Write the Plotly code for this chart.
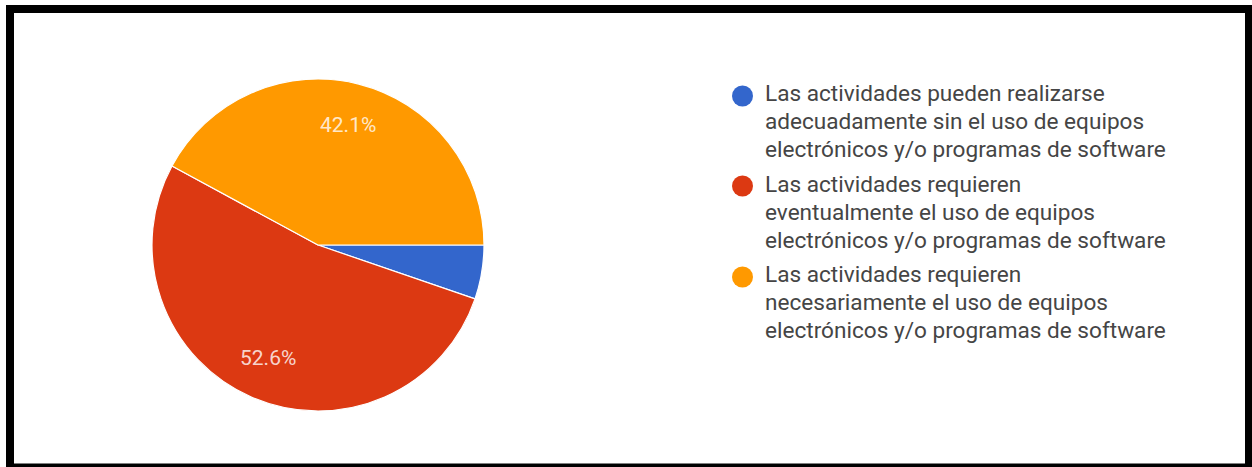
import math
import plotly.graph_objects as go

# Survey answers (response counts) in clockwise order starting at 3 o'clock
categories = [
    "Las actividades pueden realizarse<br>adecuadamente sin el uso de equipos<br>electrónicos y/o programas de software",
    "Las actividades requieren<br>eventualmente el uso de equipos<br>electrónicos y/o programas de software",
    "Las actividades requieren<br>necesariamente el uso de equipos<br>electrónicos y/o programas de software",
]
responses = [1, 10, 8]
colors = ["#3366cc", "#dc3912", "#ff9900"]
min_label_share = 0.06  # slices smaller than this get no percentage label

W, H = 1252, 467
CX, CY, R = 318, 245, 166   # pie centre and radius in pixels
START_DEG = 90              # first slice starts at 3 o'clock


def px(x):
    return x / W


def py(y):
    return 1 - y / H


fig = go.Figure()

fig.add_trace(go.Pie(
    labels=categories,
    values=responses,
    marker=dict(colors=colors, line=dict(color="#ffffff", width=1.2)),
    sort=False,
    direction="clockwise",
    rotation=START_DEG,
    textinfo="none",
    showlegend=False,
    hoverinfo="label+percent",
    domain=dict(x=[px(CX - R), px(CX + R)], y=[py(CY + R), py(CY - R)]),
))

shapes = []
annotations = []

# Percentage labels placed along each slice's bisector
total = sum(responses)
cum = 0.0
for v in responses:
    share = v / total
    mid = START_DEG + 360 * (cum + share / 2)
    cum += share
    if share < min_label_share:
        continue
    r = 0.745 * R
    lx = CX + r * math.sin(math.radians(mid))
    ly = CY - r * math.cos(math.radians(mid))
    annotations.append(dict(
        xref="paper", yref="paper", x=px(lx), y=py(ly),
        xanchor="center", yanchor="middle", showarrow=False,
        text=f"{share * 100:.1f}%",
        font=dict(family="Roboto", size=21, color="rgba(255,255,255,0.8)"),
    ))

# Legend: colored dot plus wrapped label for each answer
dot_y = [96, 186, 277]
first_line_y = [93.5, 184, 274]
line_step = 28
for color, label, cy, ty in zip(colors, categories, dot_y, first_line_y):
    shapes.append(dict(
        type="circle", xref="paper", yref="paper",
        xsizemode="pixel", ysizemode="pixel",
        xanchor=px(742.5), yanchor=py(cy),
        x0=-10.5, x1=10.5, y0=-10.5, y1=10.5,
        fillcolor=color, line=dict(width=0),
    ))
    for i, line in enumerate(label.split("<br>")):
        annotations.append(dict(
            xref="paper", yref="paper", x=px(763), y=py(ty + i * line_step),
            xanchor="left", yanchor="middle", align="left",
            text=line, showarrow=False,
            font=dict(family="Roboto", size=22.6, color="#454545"),
        ))

# Black frame around the chart
frame = [(6, 5, 1252, 13), (6, 5, 14, 467), (1245, 5, 1252, 467), (6, 463.5, 1252, 467)]
for x0, y0, x1, y1 in frame:
    shapes.append(dict(
        type="rect", xref="paper", yref="paper",
        x0=px(x0), x1=px(x1), y0=py(y1), y1=py(y0),
        fillcolor="#000000", line=dict(width=0), layer="above",
    ))

fig.update_layout(
    width=W, height=H,
    margin=dict(l=0, r=0, t=0, b=0),
    paper_bgcolor="#ffffff",
    plot_bgcolor="#ffffff",
    shapes=shapes,
    annotations=annotations,
    font=dict(family="Roboto"),
)

fig.write_html("out.html")
